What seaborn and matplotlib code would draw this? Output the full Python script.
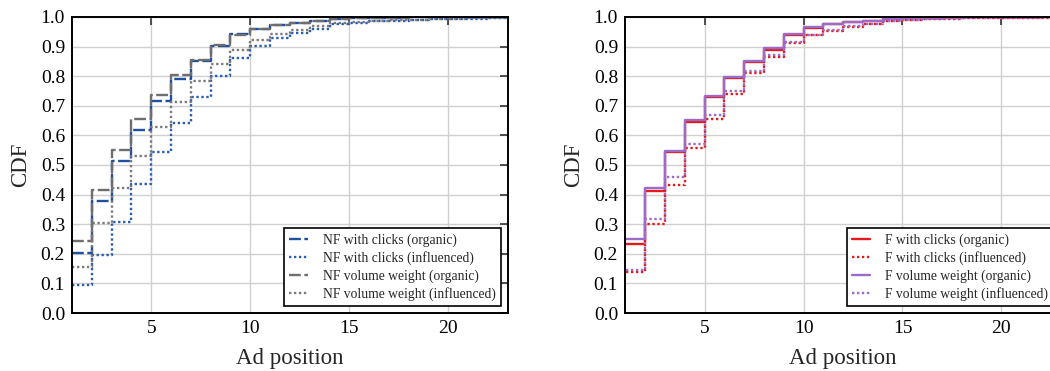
import matplotlib
matplotlib.use("Agg")
import matplotlib.pyplot as plt
import seaborn as sns
import numpy as np

# Ad positions (1..23) and cumulative share of ads at or above each position
positions = list(range(1, 24))

nf_clicks_organic = [0.204, 0.377, 0.514, 0.618, 0.717, 0.792, 0.851, 0.903, 0.942, 0.958,
                     0.972, 0.981, 0.987, 0.992, 0.995, 0.997, 0.998, 0.999, 0.999, 1.0,
                     1.0, 1.0, 1.0]
nf_clicks_influenced = [0.093, 0.195, 0.307, 0.436, 0.544, 0.642, 0.728, 0.802, 0.862, 0.902,
                        0.928, 0.946, 0.961, 0.975, 0.981, 0.985, 0.988, 0.990, 0.992, 0.993,
                        0.994, 0.995, 0.996]
nf_volume_organic = [0.242, 0.417, 0.550, 0.655, 0.736, 0.803, 0.853, 0.905, 0.939, 0.958,
                     0.972, 0.981, 0.987, 0.992, 0.995, 0.997, 0.998, 0.999, 0.999, 1.0,
                     1.0, 1.0, 1.0]
nf_volume_influenced = [0.157, 0.304, 0.422, 0.532, 0.628, 0.713, 0.784, 0.842, 0.889, 0.921,
                        0.941, 0.955, 0.969, 0.979, 0.984, 0.987, 0.989, 0.991, 0.993, 0.994,
                        0.995, 0.996, 0.997]

f_clicks_organic = [0.234, 0.413, 0.544, 0.645, 0.728, 0.794, 0.848, 0.890, 0.939, 0.964,
                    0.975, 0.983, 0.988, 0.992, 0.995, 0.997, 0.998, 0.999, 0.999, 1.0,
                    1.0, 1.0, 1.0]
f_clicks_influenced = [0.138, 0.300, 0.432, 0.558, 0.657, 0.741, 0.811, 0.865, 0.912, 0.938,
                       0.953, 0.967, 0.975, 0.985, 0.989, 0.992, 0.994, 0.995, 0.996, 0.997,
                       0.998, 0.998, 0.999]
f_volume_organic = [0.251, 0.423, 0.548, 0.651, 0.732, 0.798, 0.852, 0.895, 0.942, 0.966,
                    0.976, 0.984, 0.988, 0.992, 0.996, 0.997, 0.998, 0.999, 0.999, 1.0,
                    1.0, 1.0, 1.0]
f_volume_influenced = [0.144, 0.316, 0.460, 0.570, 0.670, 0.750, 0.816, 0.873, 0.914, 0.940,
                       0.955, 0.969, 0.976, 0.986, 0.990, 0.993, 0.995, 0.996, 0.997, 0.998,
                       0.998, 0.999, 0.999]

DASHED = (5, 1.5)
DOTTED = (1, 1.1)

left_series = [
    ("NF with clicks (organic)", nf_clicks_organic, "#1f4f9e", DASHED),
    ("NF with clicks (influenced)", nf_clicks_influenced, "#2a5db0", DOTTED),
    ("NF volume weight (organic)", nf_volume_organic, "#6e6e6e", DASHED),
    ("NF volume weight (influenced)", nf_volume_influenced, "#7a7a7a", DOTTED),
]
right_series = [
    ("F with clicks (organic)", f_clicks_organic, "#e41a1c", None),
    ("F with clicks (influenced)", f_clicks_influenced, "#e41a1c", DOTTED),
    ("F volume weight (organic)", f_volume_organic, "#9b6bc8", None),
    ("F volume weight (influenced)", f_volume_influenced, "#9b6bc8", DOTTED),
]

sns.set_style("whitegrid")
plt.rcParams.update({
    "font.family": ["Liberation Serif", "DejaVu Serif"],
    "axes.edgecolor": "black",
    "axes.linewidth": 1.4,
    "grid.color": "#d0d0d0",
    "grid.linewidth": 1.0,
    "xtick.direction": "in",
    "ytick.direction": "in",
    "xtick.top": True,
    "ytick.right": True,
    "xtick.major.size": 6,
    "ytick.major.size": 6,
    "xtick.major.width": 1.2,
    "ytick.major.width": 1.2,
    "xtick.color": "#333333",
    "ytick.color": "#333333",
    "xtick.labelcolor": "black",
    "ytick.labelcolor": "black",
})

fig = plt.figure(figsize=(10.5, 3.71), dpi=100)
ax_left = fig.add_axes([0.0686, 0.1563, 0.415, 0.798])
ax_right = fig.add_axes([0.5952, 0.1563, 0.415, 0.798])


def draw_panel(ax, series, x_lo):
    for label, values, color, dashes in series:
        line_kw = dict(drawstyle="steps-post", linewidth=1.7, color=color, label=label)
        sns.lineplot(x=positions, y=values, ax=ax, **line_kw)
        line = ax.lines[-1]
        if dashes is None:
            line.set_linestyle("-")
        else:
            line.set_linestyle((0, dashes))
    ax.set_xlim(x_lo, 23)
    ax.set_ylim(0.0, 1.0)
    ax.set_xticks([5, 10, 15, 20])
    ax.set_yticks(np.arange(0, 1.01, 0.1))
    ax.set_yticklabels([f"{v:.1f}" for v in np.arange(0, 1.01, 0.1)])
    ax.tick_params(labelsize=14, pad=5)
    ax.set_xlabel("Ad position", fontsize=16.5, labelpad=8)
    ax.set_ylabel("CDF", fontsize=16.5, labelpad=7)
    ax.grid(True)
    leg = ax.legend(loc="lower right", fontsize=9.8, frameon=True, fancybox=False,
                    framealpha=1.0, edgecolor="black", borderpad=0.4,
                    handlelength=1.35, handletextpad=1.1, labelspacing=0.3,
                    borderaxespad=0.5)
    leg.get_frame().set_linewidth(1.2)


draw_panel(ax_left, left_series, 1)
draw_panel(ax_right, right_series, 0.97)

fig.savefig("out.png", dpi=100)
